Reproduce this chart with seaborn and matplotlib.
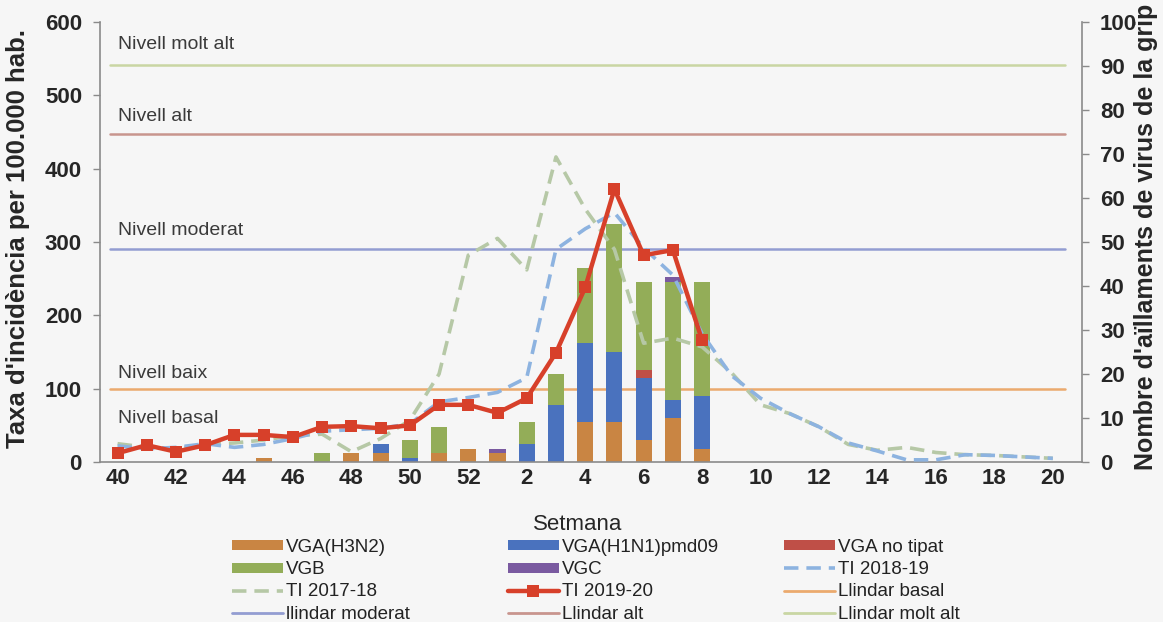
import matplotlib
matplotlib.use('Agg')
import matplotlib.pyplot as plt
import matplotlib.transforms as mtransforms
from matplotlib.lines import Line2D
from matplotlib.patches import Patch
import numpy as np
import pandas as pd
import seaborn as sns

nan = np.nan

WEEKS = ['40', '41', '42', '43', '44', '45', '46', '47', '48', '49', '50', '51', '52',
         '1', '2', '3', '4', '5', '6', '7', '8', '9', '10', '11', '12', '13', '14',
         '15', '16', '17', '18', '19', '20']

# virus isolations (right axis), stacked bottom to top
VGA_H3N2 = [0, 0, 0, 0, 0, 1, 0, 0, 2, 2, 0, 2, 3,
            2, 0, 0, 9, 9, 5, 10, 3, 0, 0, 0, 0, 0, 0, 0, 0, 0, 0, 0, 0]
VGA_H1N1 = [0, 0, 0, 0, 0, 0, 0, 0, 0, 2, 1, 0, 0,
            0, 4, 13, 18, 16, 14, 4, 12, 0, 0, 0, 0, 0, 0, 0, 0, 0, 0, 0, 0]
VGA_NO_TIPAT = [0, 0, 0, 0, 0, 0, 0, 0, 0, 0, 0, 0, 0,
                0, 0, 0, 0, 0, 2, 0, 0, 0, 0, 0, 0, 0, 0, 0, 0, 0, 0, 0, 0]
VGB = [0, 0, 0, 0, 0, 0, 0, 2, 0, 0, 4, 6, 0,
       0, 5, 7, 17, 29, 20, 27, 26, 0, 0, 0, 0, 0, 0, 0, 0, 0, 0, 0, 0]
VGC = [0, 0, 0, 0, 0, 0, 0, 0, 0, 0, 0, 0, 0,
       1, 0, 0, 0, 0, 0, 1, 0, 0, 0, 0, 0, 0, 0, 0, 0, 0, 0, 0, 0]

# incidence rates (left axis)
TI_2017_18 = [25, 20, 18, 24, 26, 30, 36, 38, 14, 32, 57, 120, 282,
              305, 262, 416, 345, 290, 162, 169, 157, 122, 78, 66, 48, 24, 16, 20, 13, 10, 9, 7, 5]
TI_2018_19 = [22, 18, 20, 25, 20, 24, 32, 42, 44, 46, 52, 82, 88,
              95, 115, 290, 318, 340, 292, 255, 175, 118, 87, 66, 48, 26, 15, 3, 3, 10, 9, 7, 5]
TI_2019_20 = [12, 23, 14, 23, 37, 37, 34, 48, 49, 46, 50, 78, 78,
              67, 87, 149, 238, 372, 282, 289, 166, nan, nan, nan, nan, nan, nan, nan, nan, nan, nan, nan, nan]

LLINDAR_NAMES = ['Llindar basal', 'llindar moderat', 'Llindar alt', 'Llindar molt alt']
LLINDAR_VALUES = [100, 290, 447, 542]
NIVELL_NAMES = ['Nivell basal', 'Nivell baix', 'Nivell moderat', 'Nivell alt', 'Nivell molt alt']
NIVELL_Y = [60, 121, 316, 471, 569]

BG = '#f6f6f6'
GREY = '#8a8a8a'
BAR_COLORS = {'VGA(H3N2)': '#c98543', 'VGA(H1N1)pmd09': '#4a72be', 'VGA no tipat': '#bf4f47',
              'VGB': '#93ad58', 'VGC': '#7a5aa0'}
LLINDAR_COLORS = ['#ebaa6e', '#939dd2', '#c8958e', '#c9d6a3']
C_1718 = '#b6c8a6'
C_1819 = '#8db3e0'
C_1920 = '#d7402a'

sns.set_style('white')
plt.rcParams['font.family'] = ['Liberation Sans', 'DejaVu Sans']

fig = plt.figure(figsize=(11.63, 6.22), dpi=100, facecolor=BG)
ax = fig.add_axes([0.086, 0.2572, 0.8444, 0.7074])
ax2 = ax.twinx()
ax.set_zorder(ax2.get_zorder() + 1)
ax.patch.set_visible(False)

x = np.arange(len(WEEKS))

df_virus = pd.DataFrame({'setmana': WEEKS, 'VGA(H3N2)': VGA_H3N2, 'VGA(H1N1)pmd09': VGA_H1N1,
                         'VGA no tipat': VGA_NO_TIPAT, 'VGB': VGB, 'VGC': VGC})
layers = ['VGA(H3N2)', 'VGA(H1N1)pmd09', 'VGA no tipat', 'VGB', 'VGC']
cum = df_virus[layers].cumsum(axis=1)

# threshold lines behind the bars
trans = mtransforms.blended_transform_factory(ax2.transAxes, ax.transData)
for val, col in zip(LLINDAR_VALUES, LLINDAR_COLORS):
    ax2.plot([0.01, 0.983], [val, val], transform=trans, color=col, lw=1.8, zorder=1)

for name in reversed(layers):
    sns.barplot(x=df_virus['setmana'], y=cum[name], order=WEEKS, color=BAR_COLORS[name],
                width=0.55, saturation=1, linewidth=0, errorbar=None, ax=ax2, zorder=2)

sns.lineplot(x=x, y=TI_2017_18, ax=ax, color=C_1718, linewidth=2.6,
             linestyle=(0, (4, 2.2)), errorbar=None, zorder=3)
sns.lineplot(x=x, y=TI_2018_19, ax=ax, color=C_1819, linewidth=2.6,
             linestyle=(0, (4, 2.2)), errorbar=None, zorder=4)
sns.lineplot(x=x, y=TI_2019_20, ax=ax, color=C_1920, linewidth=3.2, marker='s',
             markersize=8, markeredgecolor=C_1920, markeredgewidth=0, errorbar=None, zorder=5)

for name, yv in zip(NIVELL_NAMES, NIVELL_Y):
    ax.text(0.0, yv, name, fontsize=14, color='#3a3a3a', va='center', ha='left')

ax.set_xlim(-0.6, 33.0)
ax.set_ylim(0, 600)
ax2.set_ylim(0, 100)
ax.set_yticks(range(0, 601, 100))
ax2.set_yticks(range(0, 101, 10))
ax.set_xticks(x[::2])
ax.set_xticklabels(WEEKS[::2])
ax.set_xticks(np.arange(-0.5, 33, 1), minor=True)

ax.tick_params(axis='x', which='major', length=0, pad=4, labelsize=16)
ax.tick_params(axis='x', which='minor', length=5, width=1, color=GREY)
ax.tick_params(axis='y', length=5, width=1, color=GREY, pad=8, labelsize=16)
ax2.tick_params(axis='y', length=5, width=1, color=GREY, pad=8, labelsize=16)
for lab in ax.get_xticklabels() + ax.get_yticklabels() + ax2.get_yticklabels():
    lab.set_fontweight('bold')

for s in ['top', 'right']:
    ax.spines[s].set_visible(False)
for s in ['top', 'left', 'bottom']:
    ax2.spines[s].set_visible(False)
for s in ['left', 'bottom']:
    ax.spines[s].set_color(GREY)
    ax.spines[s].set_linewidth(1.2)
ax2.spines['right'].set_color(GREY)
ax2.spines['right'].set_linewidth(1.2)

ax.set_ylabel("Taxa d'incidència per 100.000 hab.", fontsize=18.5, fontweight='bold')
ax.yaxis.set_label_coords(-0.071, 0.509)
ax2.set_ylabel("Nombre d'aïllaments de virus de la grip", fontsize=18, fontweight='bold')
ax2.yaxis.set_label_coords(1.053, 0.511)
ax.set_xlabel('Setmana', fontsize=16)
ax.xaxis.set_label_coords(0.486, -0.118)

# legend, three columns read row by row
h = {name: Patch(facecolor=BAR_COLORS[name], edgecolor='none') for name in layers}
h['TI 2018-19'] = Line2D([], [], color=C_1819, lw=2.6, linestyle=(0, (4, 2.2)))
h['TI 2017-18'] = Line2D([], [], color=C_1718, lw=2.6, linestyle=(0, (4, 2.2)))
h['TI 2019-20'] = Line2D([], [], color=C_1920, lw=3.2, marker='s', markersize=8,
                         markeredgewidth=0)
for name, col in zip(LLINDAR_NAMES, LLINDAR_COLORS):
    h[name] = Line2D([], [], color=col, lw=2)

columns = [['VGA(H3N2)', 'VGB', 'TI 2017-18', 'llindar moderat'],
           ['VGA(H1N1)pmd09', 'VGC', 'TI 2019-20', 'Llindar alt'],
           ['VGA no tipat', 'TI 2018-19', 'Llindar basal', 'Llindar molt alt']]
for cx, names in zip([232, 508, 784], columns):
    fig.legend([h[n] for n in names], names, loc='upper left',
               bbox_to_anchor=(cx / 1163, 1 - 539 / 622), frameon=False, fontsize=13.5,
               handlelength=2.7, handleheight=0.45, handletextpad=0.2, labelspacing=0.28,
               borderpad=0, borderaxespad=0, labelcolor='#222222')

fig.savefig('out.png', dpi=100, facecolor=BG)
